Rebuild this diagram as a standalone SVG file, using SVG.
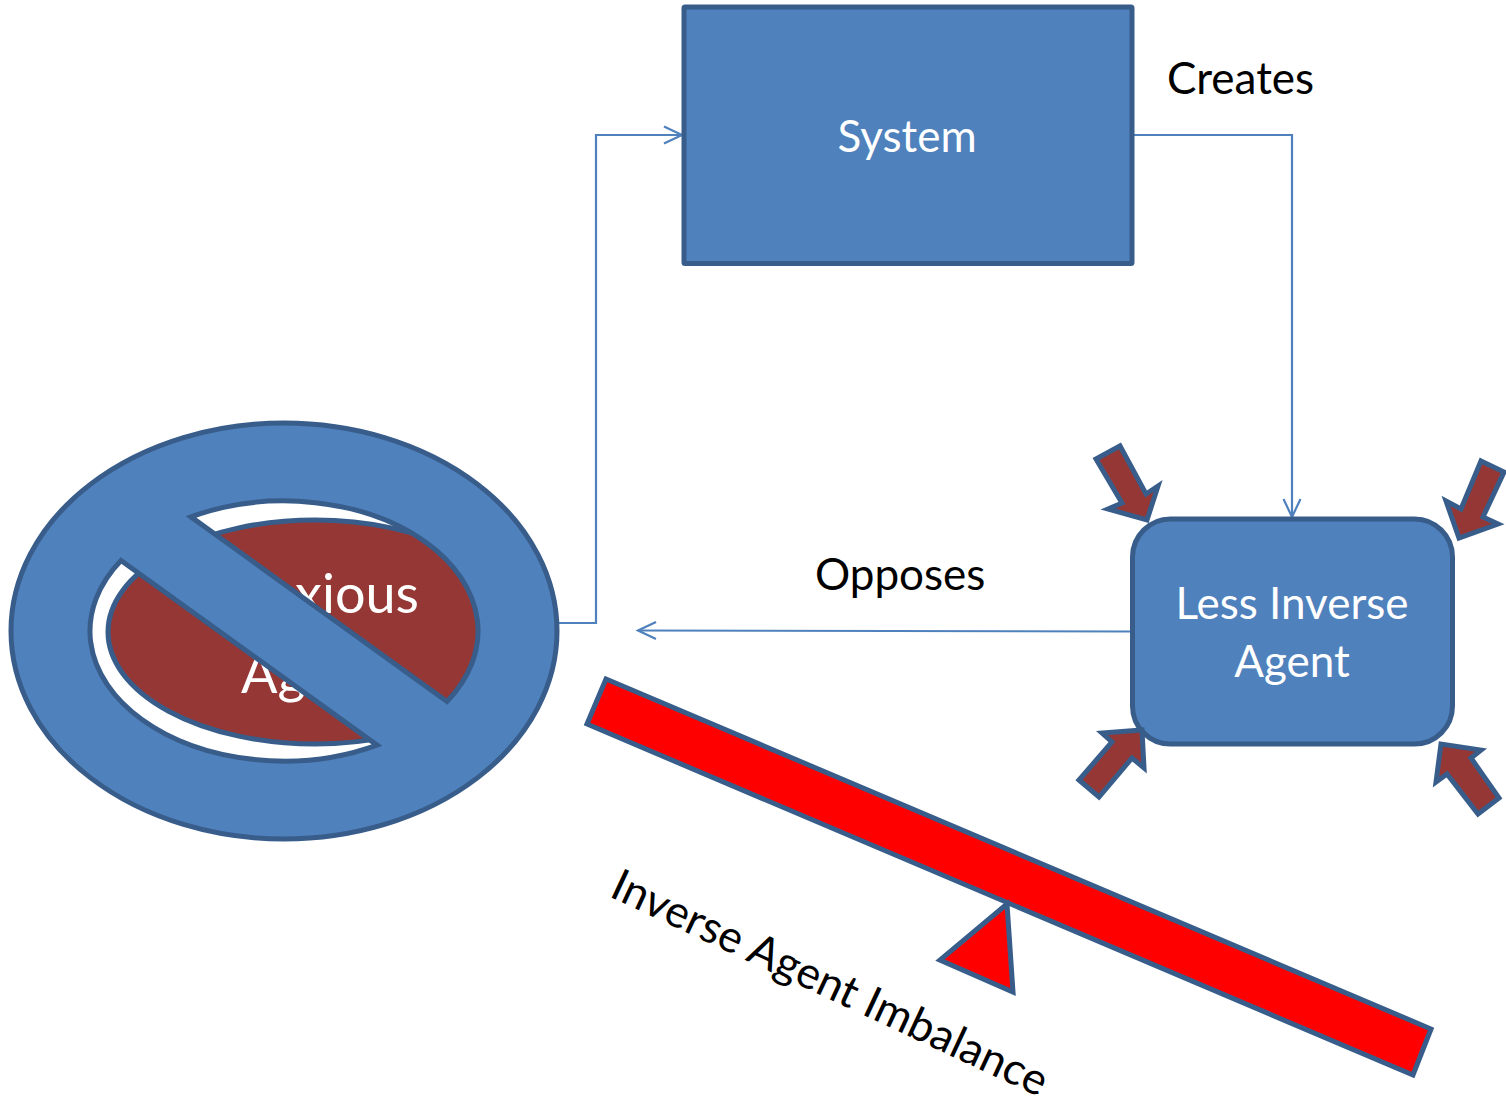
<svg xmlns="http://www.w3.org/2000/svg" width="1506" height="1102" viewBox="0 0 1506 1102">
<style>
.s{stroke:#385D8A;stroke-width:5}
.b{fill:#4F81BD}
.m{fill:#953735}
.r{fill:#FF0000}
.c{fill:none;stroke:#4F81BD;stroke-width:2.2}
text{font-family:"Lato","Open Sans","Liberation Sans",sans-serif;font-size:44px}
.w{fill:#fff}
.k{fill:#000}
.mid{text-anchor:middle}
.big{font-size:54px}
</style>
<defs>
<marker id="open" markerUnits="userSpaceOnUse" markerWidth="24" markerHeight="24" refX="20" refY="12" orient="auto">
<path d="M2 3.500L20 12L2 20.500" fill="none" stroke="#4F81BD" stroke-width="2.200"/>
</marker>
</defs>
<rect width="1506" height="1102" fill="#fff"/>
<g id="connectors">
<path class="c" d="M556 623H596V135H682" marker-end="url(#open)"/>
<path class="c" d="M1133 135H1292V517" marker-end="url(#open)"/>
<path class="c" d="M1132 631.500L638 630.500" marker-end="url(#open)"/>
</g>
<g id="system">
<rect class="b s" x="684" y="7" width="448" height="256.500" rx="1"/>
<text class="w mid" x="907" y="152">System</text>
</g>
<g id="agent">
<rect class="b s" x="1132.500" y="519" width="320" height="225" rx="38"/>
<text class="w mid" x="1292" y="619">Less Inverse</text>
<text class="w mid" x="1292" y="677">Agent</text>
</g>
<g id="arrow-tl"><path class="m s" d="M1096 459L1120 446L1146 494L1158 486L1147 520L1108 509L1122 503Z"/></g>
<g id="arrow-tr"><path class="m s" d="M1481 461L1504 472L1483 517L1498 524L1459 538L1446 501L1461 509Z"/></g>
<g id="arrow-bl"><path class="m s" d="M1079 780L1099 797L1132 758L1144 768L1142 730L1102 733L1112 742Z"/></g>
<g id="arrow-br"><path class="m s" d="M1499 798L1478 814L1447 774L1436 782L1441 744L1481 750L1471 758Z"/></g>
<g id="prohibited">
<ellipse class="m s" cx="315" cy="632" rx="207" ry="112"/>
<text class="w big" x="419" y="613" text-anchor="end">Anxious</text>
<text class="w big" x="241" y="693">Agent</text>
<path class="b s" fill-rule="evenodd" d="M11 631A273 208 0 1 1 557 631A273 208 0 1 1 11 631ZM191 516.900A194 130 0 0 1 447 701.500ZM377 745.100A194 130 0 0 1 121 560.500Z"/>
</g>
<g id="seesaw">
<path class="r s" d="M606 679L1431 1029L1413 1075L587 724Z"/>
<path class="r s" d="M1007 904L940 960L1013 992Z"/>
</g>
<text class="k" x="608" y="896" transform="rotate(25 608 896)" style="font-size:44.400px">Inverse Agent Imbalance</text>
<text class="k" x="1167" y="94">Creates</text>
<text class="k" x="815" y="590">Opposes</text>
</svg>
